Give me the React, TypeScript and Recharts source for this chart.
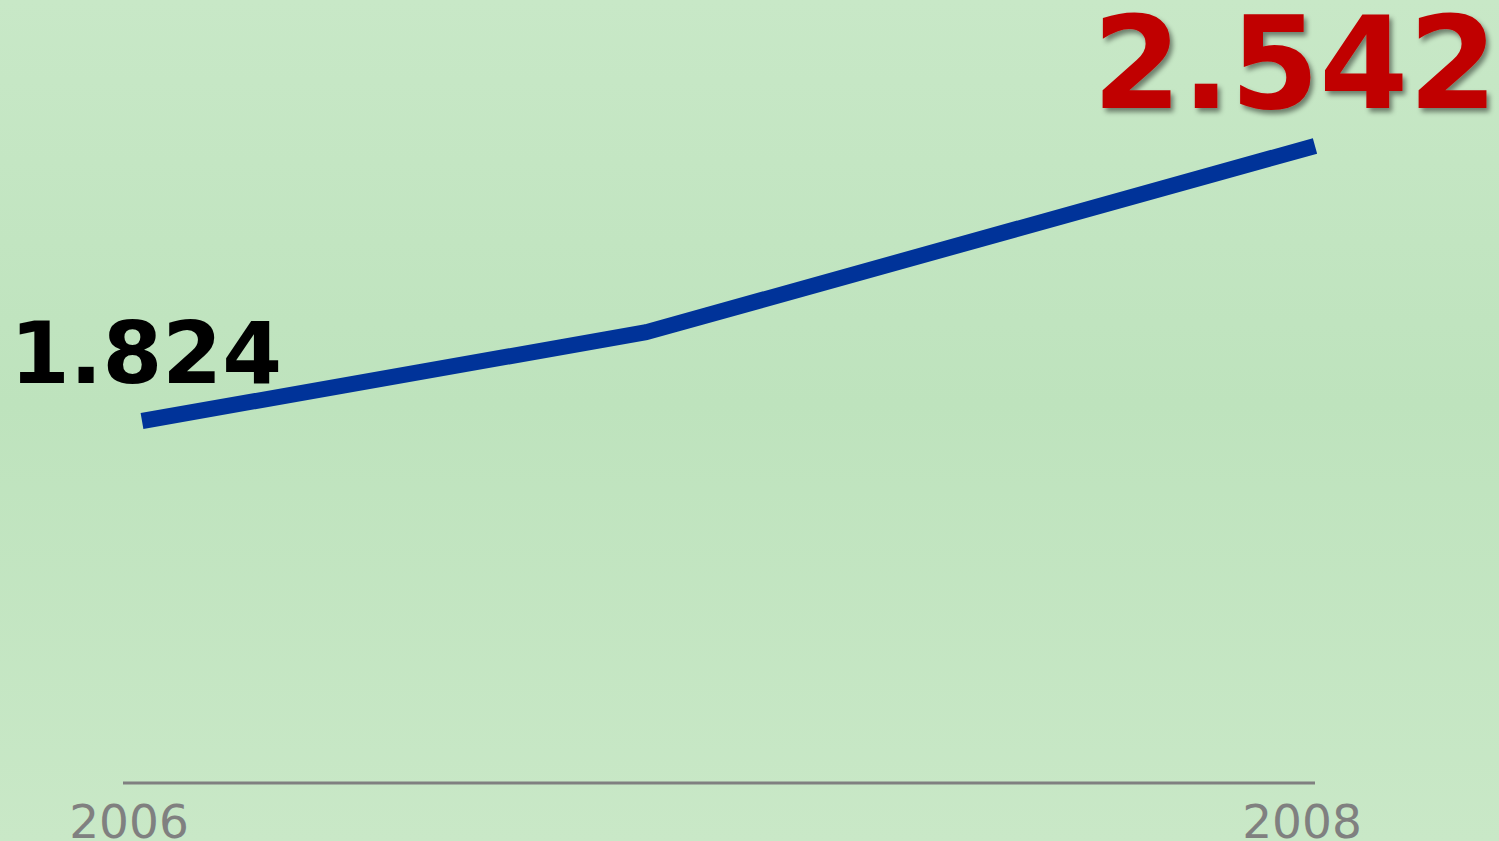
import { LabelList, Line, LineChart, XAxis, YAxis } from 'recharts';

const years = [2006, 2006.86, 2008];
const visitors = [1824, 2056, 2542];
const tickYears = [2006, 2008];
const labelIndexes = [0, 2];
const labelColors = ['#000000', '#c00000'];

const data = years.map((year, i) => ({ year, value: visitors[i] }));

const fmt = (v: number) => String(v).replace(/\B(?=(\d{3})+(?!\d))/g, '.');

const FONT = '"DejaVu Sans", Verdana, sans-serif';

function ValueLabel(props: any) {
  const { x, y, index, value } = props;
  const k = labelIndexes.indexOf(index);
  if (k < 0) return null;
  const last = k === labelIndexes.length - 1;
  return (
    <text
      x={last ? x - 20 : x + 4}
      y={y - 38}
      textAnchor="middle"
      fill={labelColors[k]}
      fontFamily={FONT}
      fontWeight="bold"
      fontSize={last ? 128 : 86}
      filter={last ? 'url(#labelShadow)' : undefined}
    >
      {fmt(value)}
    </text>
  );
}

function YearTick(props: any) {
  const { x, y, payload } = props;
  return (
    <text x={x - 13} y={y + 47} textAnchor="middle" fill="#808080" fontFamily={FONT} fontSize={47}>
      {payload.value}
    </text>
  );
}

export default function App() {
  return (
    <div
      style={{
        position: 'absolute',
        left: 0,
        top: 0,
        width: 1499,
        height: 841,
        background: 'linear-gradient(to bottom, #c8e8c7 0%, #bee3bd 48%, #c9e8c7 100%)',
        overflow: 'hidden'
      }}
    >
      <LineChart width={1499} height={841} data={data} margin={{ top: 0, right: 184, left: 123, bottom: 0 }}>
        <defs>
          <filter id="labelShadow" x="-10%" y="-10%" width="120%" height="130%">
            <feDropShadow dx={3} dy={4} stdDeviation={2.5} floodColor="#000" floodOpacity={0.45} />
          </filter>
        </defs>
        <XAxis
          dataKey="year"
          type="number"
          domain={[2006 - 19 / 586.5, 2008]}
          ticks={tickYears}
          tick={<YearTick />}
          tickLine={false}
          axisLine={{ stroke: '#808080', strokeWidth: 3 }}
          height={58}
          interval={0}
        />
        <YAxis hide domain={[879, 2923]} />
        <Line
          type="linear"
          dataKey="value"
          stroke="#003399"
          strokeWidth={16}
          strokeLinecap="butt"
          strokeLinejoin="bevel"
          dot={false}
          activeDot={false}
          isAnimationActive={false}
        >
          <LabelList dataKey="value" content={<ValueLabel />} />
        </Line>
      </LineChart>
    </div>
  );
}
